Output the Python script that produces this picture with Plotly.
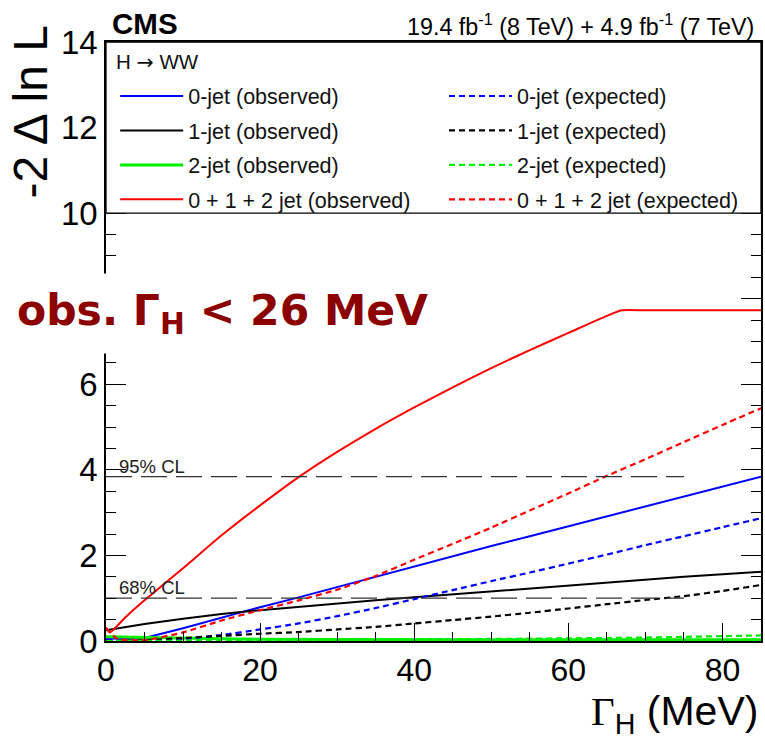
import plotly.graph_objects as go

# ---------------- data ----------------
gamma = [0, 5, 10, 15, 20, 25, 30, 35, 40, 45, 50, 55, 60, 65, 70, 75, 80, 85]

# 0+1+2 jet observed (has a plateau beyond ~67 MeV)
comb_obs_x = [0, 0.5, 2.5, 5, 10, 15, 20, 25, 30, 35, 40, 45, 50, 55, 60, 65, 66.9, 70, 75, 80, 85]
comb_obs_y = [0.32, 0.2, 0.55, 0.95, 1.7, 2.47, 3.17, 3.83, 4.42, 4.96, 5.46, 5.93, 6.38, 6.8, 7.2, 7.6, 7.73, 7.73, 7.73, 7.73, 7.73]

comb_exp_x = [0, 1.5, 5, 10, 15, 20, 25, 30, 35, 40, 45, 50, 55, 60, 65, 70, 75, 80, 85]
comb_exp_y = [0.3, 0.05, 0.02, 0.2, 0.48, 0.72, 0.95, 1.2, 1.52, 1.9, 2.27, 2.65, 3.05, 3.45, 3.86, 4.25, 4.65, 5.05, 5.44]

jet0_obs = [0.05, 0.07, 0.3, 0.55, 0.79, 1.02, 1.26, 1.5, 1.75, 1.98, 2.22, 2.45, 2.68, 2.92, 3.15, 3.38, 3.61, 3.84]
jet0_exp = [0.02, 0.0, 0.05, 0.14, 0.27, 0.41, 0.58, 0.77, 0.98, 1.19, 1.4, 1.6, 1.81, 2.02, 2.24, 2.45, 2.66, 2.87]
jet1_obs = [0.25, 0.4, 0.52, 0.63, 0.72, 0.8, 0.88, 0.95, 1.02, 1.09, 1.16, 1.23, 1.3, 1.37, 1.44, 1.5, 1.56, 1.62]
jet1_exp = [0.0, 0.02, 0.07, 0.12, 0.17, 0.21, 0.27, 0.33, 0.41, 0.49, 0.57, 0.66, 0.76, 0.86, 0.96, 1.05, 1.17, 1.31]
jet2_obs = [0.1, 0.08, 0.06, 0.05, 0.04, 0.035, 0.03, 0.03, 0.03, 0.03, 0.03, 0.03, 0.03, 0.03, 0.03, 0.03, 0.03, 0.03]
jet2_exp = [0.0, 0.0, 0.005, 0.01, 0.01, 0.015, 0.02, 0.025, 0.03, 0.035, 0.04, 0.05, 0.06, 0.07, 0.08, 0.095, 0.11, 0.13]

cl_x = [0, 75]
cl95 = 3.84
cl68 = 1.0

# y tick labels (the "8" label is hidden behind the result box in the reference)
y_tickvals = [0, 2, 4, 6, 8, 10, 12, 14]
y_ticktext = ["0", "2", "4", "6", "", "10", "12", "14"]

FONT = "Liberation Sans, Arial, Helvetica, sans-serif"

fig = go.Figure()

exp_dash = "6px,4px"

# observed traces -> legend (left column)
fig.add_trace(go.Scatter(x=gamma, y=jet0_obs, mode="lines", name="0-jet (observed)",
                         line=dict(color="#0000ff", width=2), legend="legend", legendgroup="a"))
fig.add_trace(go.Scatter(x=gamma, y=jet1_obs, mode="lines", name="1-jet (observed)",
                         line=dict(color="#000000", width=2), legend="legend", legendgroup="b"))
fig.add_trace(go.Scatter(x=gamma, y=jet2_obs, mode="lines", name="2-jet (observed)",
                         line=dict(color="#00ee00", width=3), legend="legend", legendgroup="c"))
fig.add_trace(go.Scatter(x=comb_obs_x, y=comb_obs_y, mode="lines", name="0 + 1 + 2 jet (observed)",
                         line=dict(color="#ff0000", width=2, shape="spline", smoothing=0.5),
                         legend="legend", legendgroup="d"))

# expected traces -> legend2 (right column)
fig.add_trace(go.Scatter(x=gamma, y=jet0_exp, mode="lines", name="0-jet (expected)",
                         line=dict(color="#0000ff", width=2.2, dash=exp_dash, shape="spline", smoothing=0.5),
                         legend="legend2", legendgroup="e"))
fig.add_trace(go.Scatter(x=gamma, y=jet1_exp, mode="lines", name="1-jet (expected)",
                         line=dict(color="#000000", width=2.2, dash=exp_dash, shape="spline", smoothing=0.5),
                         legend="legend2", legendgroup="f"))
fig.add_trace(go.Scatter(x=gamma, y=jet2_exp, mode="lines", name="2-jet (expected)",
                         line=dict(color="#00ee00", width=2.2, dash=exp_dash), legend="legend2", legendgroup="g"))
fig.add_trace(go.Scatter(x=comb_exp_x, y=comb_exp_y, mode="lines", name="0 + 1 + 2 jet (expected)",
                         line=dict(color="#ff0000", width=2.2, dash=exp_dash, shape="spline", smoothing=0.5),
                         legend="legend2", legendgroup="h"))

# CL lines
for lvl in (cl95, cl68):
    fig.add_trace(go.Scatter(x=cl_x, y=[lvl, lvl], mode="lines", showlegend=False,
                             line=dict(color="#333333", width=1.3, dash="26px,9px")))

# white legend box covering the top of the frame (10 < y < 14)
fig.add_shape(type="rect", xref="x", yref="y", x0=0, x1=85, y0=10, y1=14,
              fillcolor="white", line=dict(color="black", width=1.3), layer="above")

leg_common = dict(bgcolor="rgba(0,0,0,0)", borderwidth=0, font=dict(family=FONT, size=21.5, color="#111"),
                  xanchor="left", yanchor="top", orientation="v", tracegroupgap=3.5,
                  itemwidth=63, traceorder="grouped")

fig.update_layout(
    width=765, height=744,
    margin=dict(l=106, r=2, t=42, b=103),
    paper_bgcolor="white", plot_bgcolor="white",
    showlegend=True,
    legend=dict(**leg_common, x=0.014, y=0.944),
    legend2=dict(**leg_common, x=0.516, y=0.944),
    xaxis=dict(range=[0, 85], tick0=0, dtick=20, ticks="inside", ticklen=18, tickwidth=1.3,
               tickcolor="black", showline=True, linecolor="black", linewidth=1.5, mirror="ticks",
               showgrid=False, zeroline=False,
               tickfont=dict(family=FONT, size=32, color="black"),
               minor=dict(dtick=5, ticks="inside", ticklen=9, tickwidth=1.3, tickcolor="black", showgrid=False)),
    yaxis=dict(range=[0, 14], tickmode="array", tickvals=y_tickvals, ticktext=y_ticktext,
               ticks="inside", ticklen=20, tickwidth=1.3,
               tickcolor="black", showline=True, linecolor="black", linewidth=1.5, mirror="ticks",
               showgrid=False, zeroline=False,
               tickfont=dict(family=FONT, size=33, color="black"),
               minor=dict(dtick=0.5, tick0=0, ticks="inside", ticklen=10, tickwidth=1.3, tickcolor="black",
                          showgrid=False)),
)

ann = []
# legend header
ann.append(dict(text="H <span style=\"font-family:'DejaVu Sans'\">\u2192</span> WW", xref="paper", yref="paper",
                x=(114 - 106) / 657, y=(641 - 62) / 599,
                xanchor="left", yanchor="middle", showarrow=False,
                font=dict(family=FONT, size=20.5, color="#111")))
# y-axis title
ann.append(dict(text="-2 \u0394 ln L", xref="paper", yref="paper", x=-0.116, y=0.884,
                xanchor="center", yanchor="middle", textangle=-90, showarrow=False,
                font=dict(family=FONT, size=48, color="black")))
# x-axis title
ann.append(dict(text="<span style=\"font-family:'Liberation Serif',serif\">\u0393</span><sub>H</sub> (MeV)",
                xref="paper", yref="paper", x=0.999, y=-0.122, xanchor="right", yanchor="middle",
                showarrow=False, font=dict(family=FONT, size=41, color="black")))
# CMS label
ann.append(dict(text="<b>CMS</b>", xref="paper", yref="paper", x=0.006, y=1.0, xanchor="left", yanchor="bottom",
                yshift=0, showarrow=False, font=dict(family=FONT, size=29.5, color="black")))
# lumi label
ann.append(dict(text="19.4 fb<sup>-1</sup> (8 TeV) + 4.9 fb<sup>-1</sup> (7 TeV)", xref="paper", yref="paper",
                x=0.993, y=1.0, xanchor="right", yanchor="bottom", yshift=0, showarrow=False,
                font=dict(family=FONT, size=23.3, color="black")))
# CL labels
ann.append(dict(text="95% CL", xref="x", yref="y", x=1.4, y=cl95, xanchor="left", yanchor="bottom",
                showarrow=False, yshift=-2, font=dict(family=FONT, size=18.5, color="#222")))
ann.append(dict(text="68% CL", xref="x", yref="y", x=1.4, y=cl68, xanchor="left", yanchor="bottom",
                showarrow=False, yshift=-2, font=dict(family=FONT, size=18.5, color="#222")))
# result box
ann.append(dict(text="<b>obs. \u0393<sub>H</sub> &lt; 26 MeV</b>", xref="paper", yref="paper",
                x=-0.155, y=0.546, xanchor="left", yanchor="middle", showarrow=False,
                bgcolor="white", borderpad=12,
                font=dict(family="DejaVu Sans, Verdana, sans-serif", size=42.5, color="#8b0000")))
fig.update_layout(annotations=ann)

fig.write_html("out.html")
